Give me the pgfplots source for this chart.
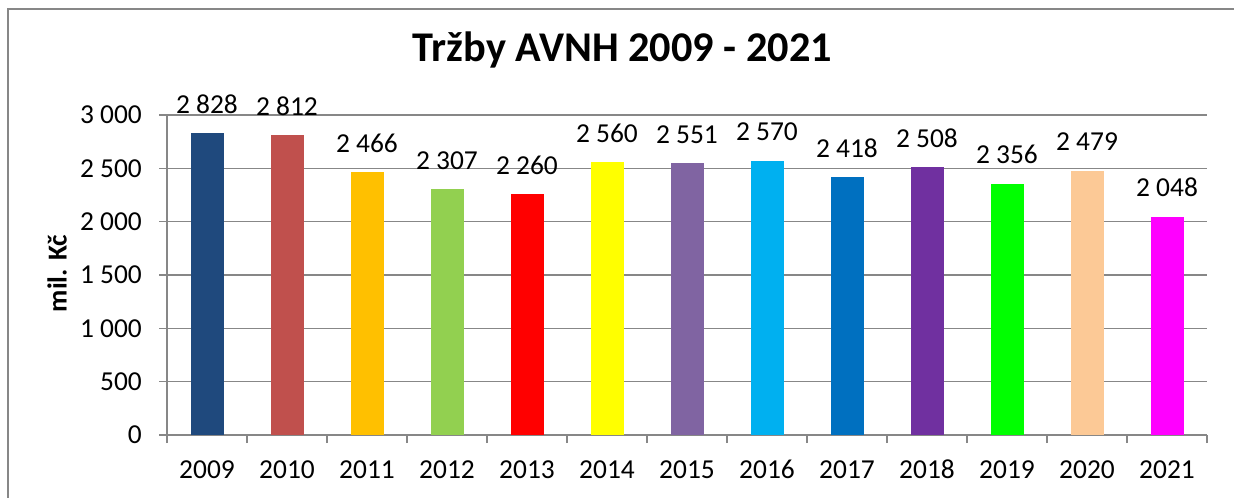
\documentclass[border=0pt]{standalone}
\usepackage{fontspec}
\setmainfont{Carlito}
\usepackage{pgfplots}
\pgfplotsset{compat=1.18}
\definecolor{gridgray}{HTML}{878787}
\definecolor{cA}{HTML}{1F497D}
\definecolor{cB}{HTML}{C0504D}
\definecolor{cC}{HTML}{FFC000}
\definecolor{cD}{HTML}{92D050}
\definecolor{cE}{HTML}{FF0000}
\definecolor{cF}{HTML}{FFFF00}
\definecolor{cG}{HTML}{8064A2}
\definecolor{cH}{HTML}{00B0F0}
\definecolor{cI}{HTML}{0070C0}
\definecolor{cJ}{HTML}{7030A0}
\definecolor{cK}{HTML}{00FF00}
\definecolor{cL}{HTML}{FCC996}
\definecolor{cM}{HTML}{FF00FF}
\begin{document}
\begin{tikzpicture}
\draw[gridgray, line width=2bp] (8bp,-10bp) -- (8bp,489bp) -- (1250bp,489bp);
\begin{axis}[
  at={(167bp,63bp)}, anchor=south west,
  width=1040bp, height=320bp, scale only axis,
  xmin=-0.5, xmax=12.5, ymin=0, ymax=3000,
  ytick={0,500,1000,1500,2000,2500,3000},
  xtick={-0.5,0.5,1.5,2.5,3.5,4.5,5.5,6.5,7.5,8.5,9.5,10.5,11.5,12.5},
  xticklabels={},
  extra x ticks={0,1,2,3,4,5,6,7,8,9,10,11,12},
  extra x tick labels={2009,2010,2011,2012,2013,2014,2015,2016,2017,2018,2019,2020,2021},
  extra x tick style={major tick length=0pt},
  axis x line*=bottom, axis y line*=left,
  axis line style={draw=gridgray, line width=1.6bp},
  ymajorgrids, grid style={draw=gridgray, line width=1.6bp},
  major tick length=8bp, tick align=outside,
  tick style={draw=gridgray, line width=1.6bp},
  /pgf/number format/.cd, 1000 sep={\ }, assume math mode=true, /pgfplots/.cd,
  ticklabel style={font=\fontsize{27.5}{32}\selectfont, text=black},
  yticklabel style={anchor=east, inner sep=0pt, xshift=-17bp},
  xticklabel style={anchor=base, inner sep=0pt, yshift=-43bp},
  ybar, bar width=33bp,
  nodes near coords,
  nodes near coords style={font=\fontsize{27.5}{32}\selectfont, text=black, anchor=south, inner sep=0pt, yshift=19.5bp},
  title={Tržby AVNH 2009 - 2021},
  title style={font=\bfseries\fontsize{42.5}{50}\selectfont, at={(0.438,1.147)}, anchor=base, inner sep=0pt},
  ylabel={mil. Kč},
  ylabel style={font=\bfseries\fontsize{27.5}{32}\selectfont, at={(-0.0964,0.5047)}, anchor=base, inner sep=0pt},
]
\addplot[fill=cA, draw=none, bar shift=0pt] coordinates {(0,2828)};
\addplot[fill=cB, draw=none, bar shift=0pt] coordinates {(1,2812)};
\addplot[fill=cC, draw=none, bar shift=0pt] coordinates {(2,2466)};
\addplot[fill=cD, draw=none, bar shift=0pt] coordinates {(3,2307)};
\addplot[fill=cE, draw=none, bar shift=0pt] coordinates {(4,2260)};
\addplot[fill=cF, draw=none, bar shift=0pt] coordinates {(5,2560)};
\addplot[fill=cG, draw=none, bar shift=0pt] coordinates {(6,2551)};
\addplot[fill=cH, draw=none, bar shift=0pt] coordinates {(7,2570)};
\addplot[fill=cI, draw=none, bar shift=0pt] coordinates {(8,2418)};
\addplot[fill=cJ, draw=none, bar shift=0pt] coordinates {(9,2508)};
\addplot[fill=cK, draw=none, bar shift=0pt] coordinates {(10,2356)};
\addplot[fill=cL, draw=none, bar shift=0pt] coordinates {(11,2479)};
\addplot[fill=cM, draw=none, bar shift=0pt] coordinates {(12,2048)};
\end{axis}
\pgfresetboundingbox
\path[use as bounding box] (0,0) rectangle (1234bp,498bp);
\end{tikzpicture}
\end{document}
